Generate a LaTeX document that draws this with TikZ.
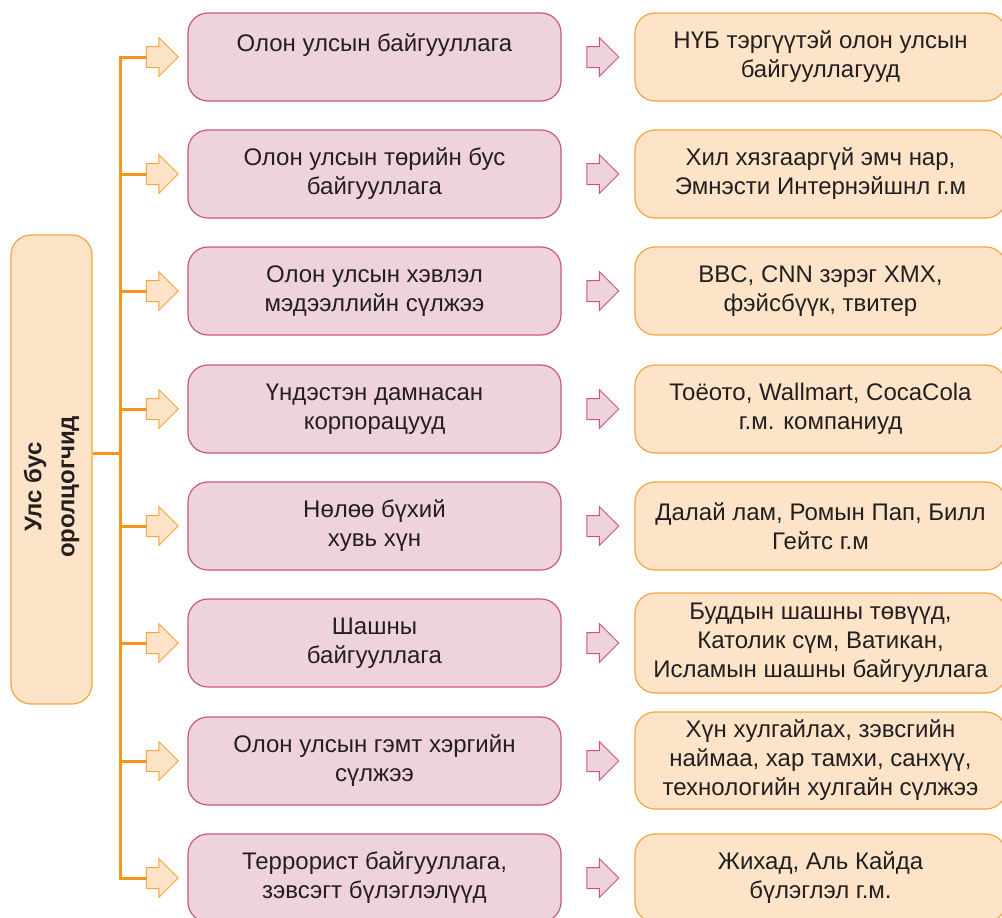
\documentclass[tikz,border=0pt]{standalone}
\usepackage{fontspec}
\setmainfont{Liberation Sans}
\usetikzlibrary{shapes.arrows}
\definecolor{pinkfill}{HTML}{EFD3DC}
\definecolor{pinkline}{HTML}{C9548A}
\definecolor{orfill}{HTML}{FDE4C8}
\definecolor{orline}{HTML}{F6A43F}
\definecolor{spinecol}{HTML}{F7941D}
\definecolor{txt}{HTML}{231F20}
\begin{document}
\begin{tikzpicture}[x=1pt,y=-1pt,
  box/.style={rectangle, rounded corners=20pt, line width=1.2pt, minimum height=88pt,
    align=center, font=\fontsize{24}{29}\selectfont, text=txt, inner sep=0pt},
  midbox/.style={box, fill=pinkfill, draw=pinkline, minimum width=373pt},
  rbox/.style={box, fill=orfill, draw=orline, minimum width=371pt},
  blockarrow/.style={single arrow, single arrow head extend=9pt, inner xsep=0pt,
    inner ysep=10pt, minimum height=32pt, line width=1pt},
  orarrow/.style={blockarrow, fill=orfill, draw=orline},
  pkarrow/.style={blockarrow, fill=pinkfill, draw=pinkline},
  conn/.style={draw=spinecol, line width=3pt, line join=miter}]
\useasboundingbox (0,0) rectangle (1002,918);
\clip (0,0) rectangle (1002,918);

% left box
\node[rectangle, rounded corners=20pt, line width=1.2pt, fill=orfill, draw=orline,
  minimum width=81pt, minimum height=469pt] (L) at (51.5,469.5) {};
\node[rotate=90, align=center, text=txt, font=\fontsize{24}{33}\selectfont\bfseries]
  (Ltext) at (51.5,487) {Улс бус\\оролцогчид};

% middle boxes
\node[midbox] (m1) at (374.5,57) {Олон улсын байгууллага\\\mbox{}};
\node[midbox] (m2) at (374.5,174) {Олон улсын төрийн бус\\байгууллага};
\node[midbox] (m3) at (374.5,291) {Олон улсын хэвлэл\\мэдээллийн сүлжээ};
\node[midbox] (m4) at (374.5,409) {Үндэстэн дамнасан\\корпорацууд};
\node[midbox] (m5) at (374.5,526) {Нөлөө бүхий\\хувь хүн};
\node[midbox] (m6) at (374.5,643) {Шашны\\байгууллага};
\node[midbox] (m7) at (374.5,761) {Олон улсын гэмт хэргийн\\сүлжээ};
\node[midbox] (m8) at (374.5,878) {Террорист байгууллага,\\зэвсэгт бүлэглэлүүд};

% right boxes
\node[rbox] (r1) at (820.5,57) {НҮБ тэргүүтэй олон улсын\\байгууллагууд};
\node[rbox] (r2) at (820.5,174) {Хил хязгааргүй эмч нар,\\Эмнэсти Интернэйшнл г.м};
\node[rbox] (r3) at (820.5,291) {BBC, CNN зэрэг ХМХ,\\фэйсбүүк, твитер};
\node[rbox] (r4) at (820.5,409) {Тоёото, Wallmart, CocaCola\\г.м. компаниуд};
\node[rbox] (r5) at (820.5,526) {Далай лам, Ромын Пап, Билл\\Гейтс г.м};
\node[rbox, minimum height=100pt] (r6) at (820.5,643) {Буддын шашны төвүүд,\\Католик сүм, Ватикан,\\Исламын шашны байгууллага};
\node[rbox, minimum height=97pt] (r7) at (820.5,760.5) {Хүн хулгайлах, зэвсгийн\\наймаа, хар тамхи, санхүү,\\технологийн хулгайн сүлжээ};
\node[rbox] (r8) at (820.5,878) {Жихад, Аль Кайда\\бүлэглэл г.м.};

% arrows
\foreach \i/\y in {1/57,2/174,3/291,4/409,5/526,6/643,7/761,8/878}{
  \node[orarrow] (oa\i) at (157,\y) {};
  \node[pkarrow] (pa\i) at (597.5,\y) {};
  \coordinate (s\i) at (120,\y);
}
\coordinate (sm) at (120,453);

% spine and connectors
\draw[conn] (oa1.west) -- (s1) -- (s8) -- (oa8.west);
\foreach \i in {2,...,7}{ \draw[conn] (s\i) -- (oa\i.west); }
\draw[conn] (L.east |- sm) -- (sm);
\end{tikzpicture}
\end{document}
